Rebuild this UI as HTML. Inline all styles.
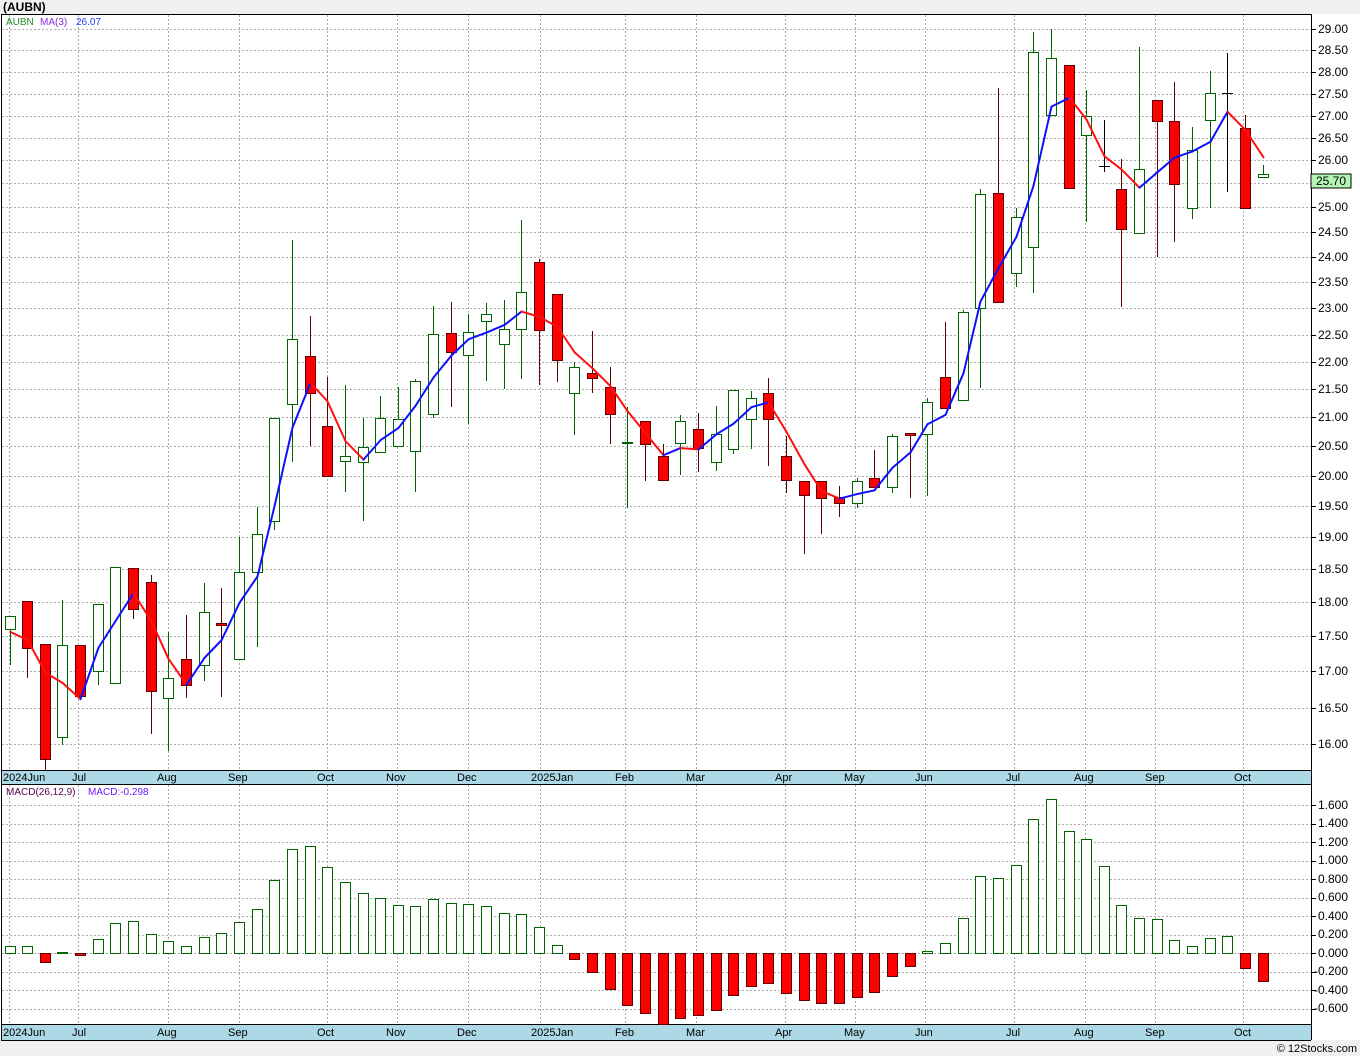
<!DOCTYPE html>
<html><head><meta charset="utf-8"><style>
html,body{margin:0;padding:0;background:#fff;}
svg{display:block;font-family:"Liberation Sans",Arial,sans-serif;}
</style></head><body>
<svg id="s" width="1360" height="1056" xmlns="http://www.w3.org/2000/svg">
<rect x="0" y="0" width="1360" height="1056" fill="#fff"/>
<rect x="0" y="0" width="1360" height="14" fill="#f0f0f0"/>
<rect x="0" y="1040" width="1360" height="16" fill="#f0f0f0"/>
<text x="3" y="11" font-size="12" font-weight="bold" fill="#000">(AUBN)</text>
<g id="grid" stroke="#aaa" stroke-width="1" stroke-dasharray="2,2"></g>
<rect x="2" y="770" width="1309" height="14" fill="#add8e6"/>
<rect x="2" y="1024" width="1309" height="16" fill="#add8e6"/>
<g stroke="#000" stroke-width="1" fill="none">
<line x1="1.5" y1="14" x2="1.5" y2="1040"/>
<line x1="1" y1="14.5" x2="1311" y2="14.5"/>
<line x1="1311.5" y1="14" x2="1311.5" y2="1040"/>
<line x1="1" y1="770.5" x2="1311" y2="770.5"/>
<line x1="1" y1="784.5" x2="1311" y2="784.5"/>
<line x1="1" y1="1024.5" x2="1311" y2="1024.5"/>
<line x1="1" y1="1040.5" x2="1311" y2="1040.5"/>
</g>
<g id="plot"></g>
<text x="6" y="25" font-size="10" fill="#228b22">AUBN</text>
<text x="40" y="25" font-size="10" fill="#8a2be2">MA(3)</text>
<text x="76" y="25" font-size="10" fill="#1e3cff">26.07</text>
<text x="6" y="795" font-size="10" fill="#5a0050">MACD(26,12,9)</text>
<text x="88" y="795" font-size="10" fill="#6a1bff">MACD:-0.298</text>
<g font-size="11" fill="#000">
<text x="3" y="781">2024Jun</text><text x="72" y="781">Jul</text><text x="157" y="781">Aug</text><text x="228" y="781">Sep</text><text x="317" y="781">Oct</text><text x="386" y="781">Nov</text><text x="457" y="781">Dec</text><text x="531" y="781">2025Jan</text><text x="615" y="781">Feb</text><text x="686" y="781">Mar</text><text x="775" y="781">Apr</text><text x="844" y="781">May</text><text x="915" y="781">Jun</text><text x="1006" y="781">Jul</text><text x="1074" y="781">Aug</text><text x="1145" y="781">Sep</text><text x="1234" y="781">Oct</text>
</g>
<g font-size="11" fill="#000">
<text x="3" y="1036">2024Jun</text><text x="72" y="1036">Jul</text><text x="157" y="1036">Aug</text><text x="228" y="1036">Sep</text><text x="317" y="1036">Oct</text><text x="386" y="1036">Nov</text><text x="457" y="1036">Dec</text><text x="531" y="1036">2025Jan</text><text x="615" y="1036">Feb</text><text x="686" y="1036">Mar</text><text x="775" y="1036">Apr</text><text x="844" y="1036">May</text><text x="915" y="1036">Jun</text><text x="1006" y="1036">Jul</text><text x="1074" y="1036">Aug</text><text x="1145" y="1036">Sep</text><text x="1234" y="1036">Oct</text>
</g>
<g font-size="12" fill="#000">
<text x="1318" y="33">29.00</text><text x="1318" y="54">28.50</text><text x="1318" y="76">28.00</text><text x="1318" y="98">27.50</text><text x="1318" y="120">27.00</text><text x="1318" y="142">26.50</text><text x="1318" y="164">26.00</text><text x="1318" y="211">25.00</text><text x="1318" y="236">24.50</text><text x="1318" y="261">24.00</text><text x="1318" y="286">23.50</text><text x="1318" y="312">23.00</text><text x="1318" y="339">22.50</text><text x="1318" y="366">22.00</text><text x="1318" y="393">21.50</text><text x="1318" y="421">21.00</text><text x="1318" y="450">20.50</text><text x="1318" y="480">20.00</text><text x="1318" y="510">19.50</text><text x="1318" y="541">19.00</text><text x="1318" y="573">18.50</text><text x="1318" y="606">18.00</text><text x="1318" y="640">17.50</text><text x="1318" y="675">17.00</text><text x="1318" y="712">16.50</text><text x="1318" y="748">16.00</text>
</g>
<rect x="1311" y="174" width="40" height="14" fill="#b4f5b4" stroke="#000" stroke-width="1"/>
<text x="1316" y="185" font-size="12" fill="#000">25.70</text>
<g font-size="12" fill="#000">
<text x="1318" y="809">1.600</text><text x="1318" y="827">1.400</text><text x="1318" y="846">1.200</text><text x="1318" y="864">1.000</text><text x="1318" y="883">0.800</text><text x="1318" y="901">0.600</text><text x="1318" y="920">0.400</text><text x="1318" y="938">0.200</text><text x="1318" y="957">0.000</text><text x="1314" y="975">-0.200</text><text x="1314" y="994">-0.400</text><text x="1314" y="1012">-0.600</text>
</g>
<text x="1357" y="1052" font-size="11" fill="#000" text-anchor="end">© 12Stocks.com</text>
</svg>
<script>
(function(){
var NS="http://www.w3.org/2000/svg";
function el(p,t,a){var e=document.createElementNS(NS,t);for(var k in a)e.setAttribute(k,a[k]);p.appendChild(e);return e;}
var grid=document.getElementById("grid"),plot=document.getElementById("plot");
var months=[9,78,168,239,327,397,468,540,625,696,785,855,925,1014,1085,1155,1243];
months.forEach(function(x){el(grid,"line",{x1:x+.5,y1:15,x2:x+.5,y2:770});el(grid,"line",{x1:x+.5,y1:785,x2:x+.5,y2:1024});});
var py=[29,50,72,94,116,138,160,183,207,232,257,282,308,335,362,389,417,446,476,506,537,569,602,636,671,708,744];
py.forEach(function(y){el(grid,"line",{x1:2,y1:y+.5,x2:1311,y2:y+.5});el(plot,"line",{x1:1311,y1:y+.5,x2:1316,y2:y+.5,stroke:"#000"});});
for(var v=-0.6;v<=1.61;v+=0.2){var y=Math.round(953-v*92.5);el(grid,"line",{x1:2,y1:y+.5,x2:1311,y2:y+.5});el(plot,"line",{x1:1311,y1:y+.5,x2:1316,y2:y+.5,stroke:"#000"});}
// [high, low, top, bottom, type]
var C=[[616,665,616,629,'g'],[601,678,601,648,'r'],[644,770,644,759,'r'],[600,745,645,737,'g'],[645,696,645,696,'r'],[604,685,604,671,'g'],[567,683,567,683,'g'],[568,619,568,609,'r'],[575,734,582,691,'r'],[632,751,678,698,'g'],[615,698,659,685,'r'],[583,681,612,665,'g'],[588,697,623,625,'r'],[537,659,572,659,'g'],[507,647,534,572,'g'],[418,530,418,521,'g'],[240,462,339,404,'g'],[316,446,356,393,'r'],[377,476,426,476,'r'],[385,492,456,461,'g'],[418,521,447,462,'g'],[396,453,418,452,'g'],[387,446,419,446,'g'],[379,492,381,451,'g'],[306,418,334,414,'g'],[302,407,333,352,'r'],[314,424,332,355,'g'],[303,381,314,321,'g'],[300,389,329,344,'g'],[220,379,292,329,'g'],[259,385,262,330,'r'],[294,382,294,360,'r'],[362,435,367,393,'g'],[331,393,373,378,'r'],[367,444,387,414,'r'],[407,508,442,443,'g'],[421,481,421,444,'r'],[444,480,456,480,'r'],[415,475,421,443,'g'],[413,472,429,448,'r'],[406,471,434,462,'g'],[390,454,390,449,'g'],[391,449,398,419,'g'],[378,466,393,419,'r'],[436,493,456,480,'r'],[481,554,481,495,'r'],[481,534,481,498,'r'],[486,517,497,503,'r'],[478,508,481,503,'g'],[450,487,478,487,'r'],[434,493,436,487,'g'],[433,498,433,435,'r'],[398,496,402,434,'g'],[322,408,377,408,'r'],[310,400,312,400,'g'],[189,388,194,308,'g'],[88,302,193,302,'r'],[208,287,217,273,'g'],[32,293,52,247,'g'],[29,115,58,115,'g'],[65,188,65,188,'r'],[90,222,116,135,'g'],[120,172,166,166,'k'],[159,307,189,229,'r'],[47,233,169,233,'g'],[100,257,100,121,'r'],[82,242,121,184,'r'],[127,219,150,208,'g'],[71,208,93,120,'g'],[53,192,93,93,'k'],[115,208,128,208,'r'],[165,177,174,177,'g']];
var L29=Math.log(29);
function p2y(p){return 29+(L29-Math.log(p))*1202;}
function y2p(y){return Math.exp(L29-(y-29)/1202);}
var X=function(i){return Math.round(9.5+i*17.65);};
var cl=[];
C.forEach(function(c,i){
 var x=X(i),t=c[4];
 var wc=t=='g'?'#006400':(t=='r'?'#600000':'#000');
 el(plot,"line",{x1:x+.5,y1:c[0],x2:x+.5,y2:c[1],stroke:wc,"stroke-width":1});
 if(t=='k'){el(plot,"line",{x1:x-5,y1:c[2]+.5,x2:x+6,y2:c[2]+.5,stroke:"#000"});}
 else{var h=Math.max(c[3]-c[2],1);
  el(plot,"rect",{x:x-4.5,y:c[2]+.5,width:10,height:h,fill:t=='g'?'#fff':'#f00',stroke:t=='g'?'#006400':'#600000',"stroke-width":1});}
 cl.push(t=='r'?c[3]:c[2]);
});
var ma=[];
for(var i=0;i<cl.length;i++){var s=0,n=0;for(var j=Math.max(0,i-2);j<=i;j++){s+=y2p(cl[j]);n++;}ma.push(p2y(s/n));}
ma[0]=632;ma[1]=640;
for(var i=1;i<ma.length;i++){
 el(plot,"line",{x1:X(i-1)+.5,y1:ma[i-1],x2:X(i)+.5,y2:ma[i],stroke:ma[i]<ma[i-1]?'#1010ff':'#ff1010',"stroke-width":2,"stroke-linecap":"round"});
}
var M=[946,946,962,952,955,939,923,921,934,941,946,937,933,922,909,880,849,846,867,882,893,898,905,906,899,903,904,906,913,914,927,945,959,972,989,1005,1013,1024,1018,1015,1010,995,986,983,993,1000,1003,1003,997,992,976,966,951,943,918,876,878,865,819,799,831,839,866,905,918,919,940,946,938,936,968,981];
M.forEach(function(m,i){var x=X(i);
 if(m<953){el(plot,"rect",{x:x-4.5,y:m+.5,width:10,height:953-m,fill:'#fff',stroke:'#006400'});}
 else if(m>953){el(plot,"rect",{x:x-4.5,y:953.5,width:10,height:m-953,fill:'#f00',stroke:'#600000'});}
 else{el(plot,"line",{x1:x-5,y1:953.5,x2:x+6,y2:953.5,stroke:'#006400'});}
});
})();
</script>
</body></html>
